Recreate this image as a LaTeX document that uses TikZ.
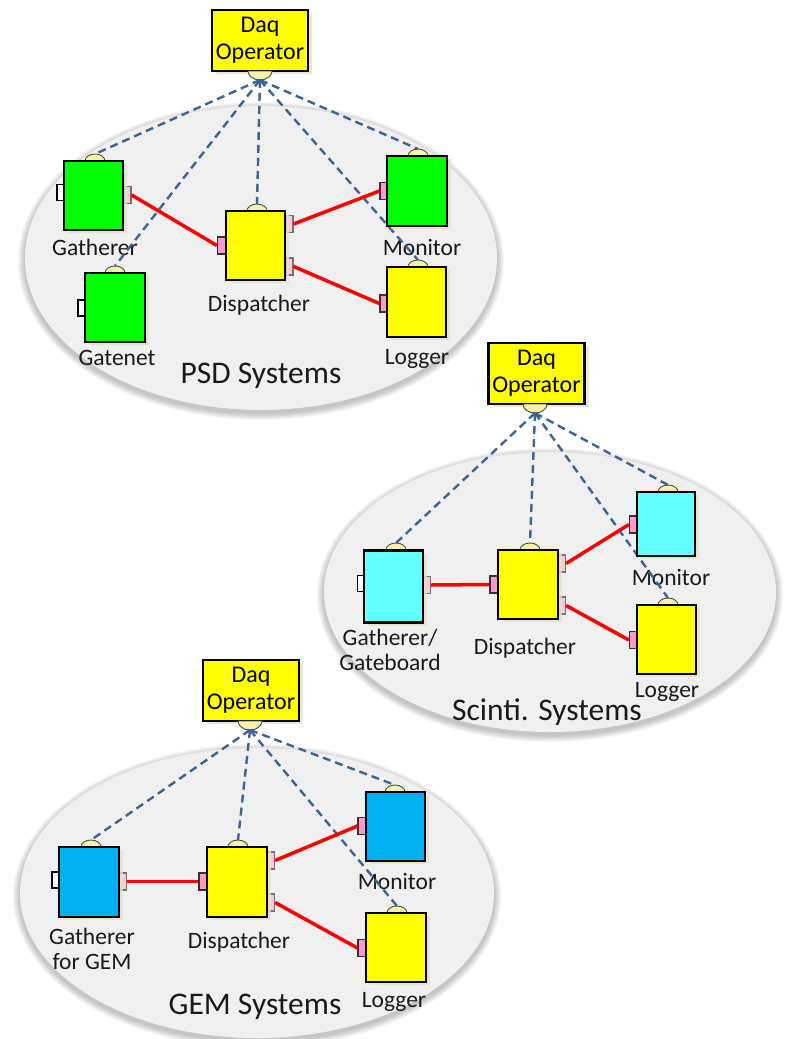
\documentclass[tikz,border=0pt]{standalone}
\usepackage{fontspec}
\setmainfont{Carlito}
\usetikzlibrary{shadows}
\definecolor{ellfill}{HTML}{F0F0F0}
\definecolor{capc}{HTML}{F7F2A6}
\definecolor{pinkA}{HTML}{FF99CC}
\definecolor{pinkB}{HTML}{F9C9DA}
\definecolor{dashc}{HTML}{3C6496}
\definecolor{gr}{HTML}{00FF00}
\definecolor{ye}{HTML}{FFFF00}
\definecolor{cy}{HTML}{66FFFF}
\definecolor{bl}{HTML}{00B0F0}
\definecolor{shd}{HTML}{E4E1CC}
\definecolor{txt}{HTML}{1A1A1A}
\tikzset{
  box/.style={draw=black, line width=2.2pt, inner sep=0pt,
    drop shadow={shadow xshift=4pt, shadow yshift=-3pt, fill=shd, opacity=0.8}},
  daqbox/.style={box, fill=ye, minimum width=96pt, minimum height=61pt, align=center,
    font=\fontsize{24}{27}\selectfont, text=black},
  wport/.style={draw=black, line width=1.2pt, fill=white, minimum width=7pt, minimum height=16pt, inner sep=0pt},
  pportA/.style={draw=black!80, line width=1.2pt, fill=pinkA, minimum width=8pt, minimum height=17pt, inner sep=0pt},
  pportB/.style={draw=black!55, line width=1.2pt, fill=pinkB, minimum width=7pt, minimum height=17pt, inner sep=0pt},
  capst/.style={fill=capc, draw=black!70, line width=0.9pt},
  lbl/.style={text=txt, font=\fontsize{23.5}{25}\selectfont, align=center, inner sep=0pt},
  ttl/.style={text=txt, font=\fontsize{31.5}{34}\selectfont, inner sep=0pt},
  dsh/.style={draw=dashc, line width=2.4pt, dash pattern=on 8pt off 5pt},
  redl/.style={draw=red, line width=3.5pt},
}
\newcommand\portcap[3]{\filldraw[capst] ({#2-10},#3) arc[start angle=180,end angle=360,x radius=10,y radius=7] -- cycle; \coordinate (#1) at (#2,{#3-7});}
\newcommand\daqcap[3]{\filldraw[capst] ({#2-12},#3) arc[start angle=180,end angle=0,x radius=12,y radius=9] -- cycle; \coordinate (#1) at (#2,{#3+9});}
\newcommand\bigell[4]{%
  \foreach \i in {1,...,7}{\fill[black, opacity=0.035] (#1,{#2+3}) ellipse[x radius={#3+\i}, y radius={#4+\i}];}
  \fill[ellfill] (#1,#2) ellipse[x radius=#3, y radius=#4];}
\begin{document}
\begin{tikzpicture}[x=1pt,y=-1pt]
\useasboundingbox (0,0) rectangle (788,1039);
% ---------------- ellipses
\bigell{261}{258}{236}{152}
\bigell{550}{592}{226}{140}
\bigell{257}{893}{237}{145}

% ================= PSD =================
\node[daqbox] (d1) at (260,40.5) {Daq\\Operator};
\daqcap{d1p}{260}{71}
\node[ttl] (t1) at (261,376) {PSD Systems};
\node[lbl] (g1l) at (95,247) {Gatherer};
\node[lbl] (n1l) at (117,358) {Gatenet};
\node[lbl] (p1l) at (259,305) {Dispatcher};
\node[lbl] (m1l) at (422,247) {Monitor};
\node[lbl] (l1l) at (417,359) {Logger};
\portcap{g1t}{95}{161}
\portcap{n1t}{115}{273}
\portcap{p1t}{257}{211}
\portcap{m1t}{418}{156}
\portcap{l1t}{418}{267}
\draw[dsh] (d1p) -- (g1t);
\draw[dsh] (d1p) -- (n1t);
\draw[dsh] (d1p) -- (p1t);
\draw[dsh] (d1p) -- (m1t);
\draw[dsh] (d1p) -- (l1t);
\node[wport] (g1a) at (60.5,192.5) {};
\node[pportB] (g1b) at (127.5,195) {};
\node[box, fill=gr, minimum width=59pt, minimum height=69pt] (g1) at (93.5,195.5) {};
\node[wport] (n1a) at (81.5,308) {};
\node[box, fill=gr, minimum width=60pt, minimum height=69pt] (n1) at (115,307.5) {};
\node[pportA] (p1a) at (221.5,245.5) {};
\node[pportB] (p1b) at (289.5,224) {};
\node[pportB] (p1c) at (289.5,266.5) {};
\node[box, fill=ye, minimum width=59pt, minimum height=69pt] (p1) at (255.5,245.5) {};
\node[pportA] (m1a) at (384,191) {};
\node[box, fill=gr, minimum width=60pt, minimum height=70pt] (m1) at (417,191) {};
\node[pportA] (l1a) at (384,303.5) {};
\node[box, fill=ye, minimum width=59pt, minimum height=70pt] (l1) at (416.5,302) {};
\draw[redl] (g1b.east) -- (p1a.west);
\draw[redl] (p1b.east) -- (m1a.west);
\draw[redl] (p1c.east) -- (l1a.west);

% ================= Scinti =================
\node[daqbox] (d2) at (536.5,373.5) {Daq\\Operator};
\daqcap{d2p}{535}{404}
\node[ttl] (t2) at (547,712) {Scinti. Systems};
\node[lbl] (g2l) at (390,650) {Gatherer/\\Gateboard};
\node[lbl] (p2l) at (525,648) {Dispatcher};
\node[lbl] (m2l) at (671,577) {Monitor};
\node[lbl] (l2l) at (667,692) {Logger};
\portcap{g2t}{396}{550}
\portcap{p2t}{530}{550}
\portcap{m2t}{668}{492}
\portcap{l2t}{668}{605}
\draw[dsh] (d2p) -- (g2t);
\draw[dsh] (d2p) -- (p2t);
\draw[dsh] (d2p) -- (m2t);
\draw[dsh] (d2p) -- (l2t);
\node[wport] (g2a) at (361,583.5) {};
\node[pportB] (g2b) at (427,585) {};
\node[box, fill=cy, minimum width=59pt, minimum height=72pt] (g2) at (393.5,586.5) {};
\node[pportA] (p2a) at (494,584.5) {};
\node[pportB] (p2b) at (562,563.5) {};
\node[pportB] (p2c) at (562,605.5) {};
\node[box, fill=ye, minimum width=60pt, minimum height=69pt] (p2) at (528,584.5) {};
\node[pportA] (m2a) at (633.5,524.5) {};
\node[box, fill=cy, minimum width=58pt, minimum height=64pt] (m2) at (666,524) {};
\node[pportA] (l2a) at (633.5,640) {};
\node[box, fill=ye, minimum width=59pt, minimum height=69pt] (l2) at (666.5,639.5) {};
\draw[redl] (g2b.east) -- (p2a.west);
\draw[redl] (p2b.east) -- (m2a.west);
\draw[redl] (p2c.east) -- (l2a.west);

% ================= GEM =================
\node[daqbox] (d3) at (251,690.5) {Daq\\Operator};
\daqcap{d3p}{250}{721}
\node[ttl] (t3) at (255,1007) {GEM Systems};
\node[lbl] (g3l) at (92,948.5) {Gatherer\\for GEM};
\node[lbl] (p3l) at (239,942) {Dispatcher};
\node[lbl] (m3l) at (397,881) {Monitor};
\node[lbl] (l3l) at (394,1002) {Logger};
\portcap{g3t}{91}{847}
\portcap{p3t}{238}{847}
\portcap{m3t}{395}{792}
\portcap{l3t}{397}{913}
\draw[dsh] (d3p) -- (g3t);
\draw[dsh] (d3p) -- (p3t);
\draw[dsh] (d3p) -- (m3t);
\draw[dsh] (d3p) -- (l3t);
\node[wport] (g3a) at (55.5,880) {};
\node[pportB] (g3b) at (123,881.5) {};
\node[box, fill=bl, minimum width=60pt, minimum height=70pt] (g3) at (89,882) {};
\node[pportA] (p3a) at (203,881.5) {};
\node[pportB] (p3b) at (271,860.5) {};
\node[pportB] (p3c) at (271,902.5) {};
\node[box, fill=ye, minimum width=60pt, minimum height=70pt] (p3) at (237,882) {};
\node[pportA] (m3a) at (362,826) {};
\node[box, fill=bl, minimum width=59pt, minimum height=69pt] (m3) at (395.5,826.5) {};
\node[pportA] (l3a) at (362,948) {};
\node[box, fill=ye, minimum width=60pt, minimum height=69pt] (l3) at (396,947.5) {};
\draw[redl] (g3b.east) -- (p3a.west);
\draw[redl] (p3b.east) -- (m3a.west);
\draw[redl] (p3c.east) -- (l3a.west);
\end{tikzpicture}
\end{document}
